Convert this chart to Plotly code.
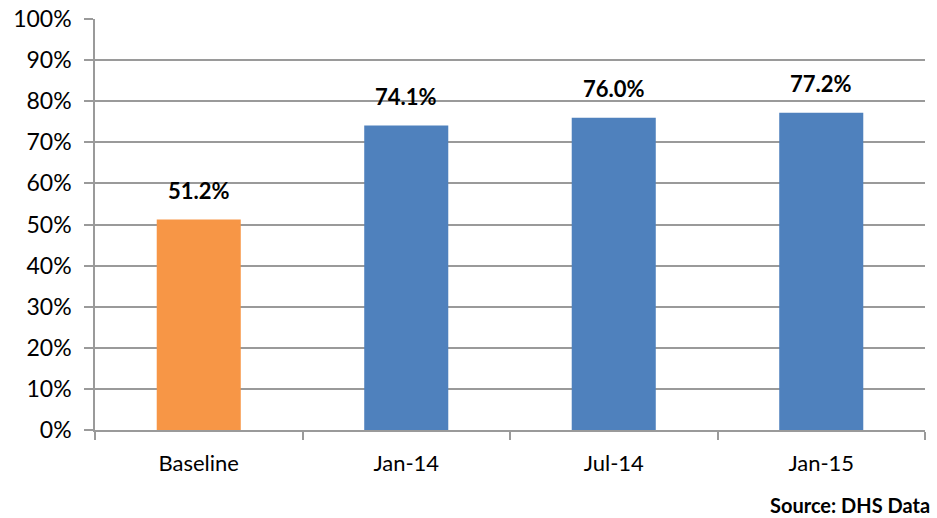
import plotly.graph_objects as go

categories = ["Baseline", "Jan-14", "Jul-14", "Jan-15"]
values = [51.2, 74.1, 76.0, 77.2]
bar_colors = ["#F79646", "#4F81BD", "#4F81BD", "#4F81BD"]
y_ticks = list(range(0, 101, 10))
y_tick_labels = [f"{t}%" for t in y_ticks]

FONT = "Lato"

fig = go.Figure()

fig.add_trace(go.Bar(
    x=categories,
    y=values,
    marker=dict(color=bar_colors, line=dict(width=0)),
    width=0.405,
    hoverinfo="skip",
))

# data labels above each bar
for cat, v in zip(categories, values):
    fig.add_annotation(
        x=cat, y=v, text=f"<b>{v:.1f}%</b>",
        showarrow=False, yanchor="middle", yshift=29,
        font=dict(size=22, color="black", family=FONT),
    )

fig.add_annotation(
    xref="paper", yref="paper", x=1.008, y=-0.183,
    xanchor="right", yanchor="middle",
    text="<b>Source: DHS Data</b>", showarrow=False,
    font=dict(size=20, color="black", family=FONT),
)

fig.update_layout(
    width=937, height=518,
    margin=dict(l=95, r=12, t=19, b=88, autoexpand=False),
    paper_bgcolor="white", plot_bgcolor="white",
    showlegend=False,
    font=dict(family=FONT, size=22, color="black"),
    xaxis=dict(
        type="category",
        tickson="boundaries",
        ticks="outside", ticklen=8, tickcolor="#9A9A9A", tickwidth=1.5,
        showline=True, linecolor="#9A9A9A", linewidth=1.5,
        showgrid=False,
        tickfont=dict(size=22, family=FONT),
        ticklabelstandoff=13,
    ),
    yaxis=dict(
        range=[0, 100],
        tickvals=y_ticks, ticktext=y_tick_labels,
        ticks="outside", ticklen=9, tickcolor="#9A9A9A", tickwidth=1.5,
        showline=True, linecolor="#9A9A9A", linewidth=1.5,
        showgrid=True, gridcolor="#9A9A9A", gridwidth=1.5,
        zeroline=False,
        tickfont=dict(size=23, family=FONT),
        ticklabelstandoff=8,
    ),
)

fig.write_html(
    "out.html",
    config={"displayModeBar": False},
    post_script="document.body.style.margin='0px';",
)
